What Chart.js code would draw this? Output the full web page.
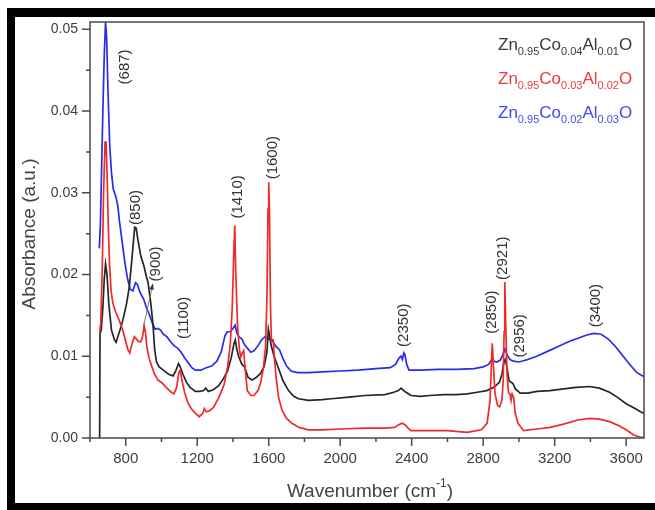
<!DOCTYPE html>
<html>
<head>
<meta charset="utf-8">
<script src="https://cdn.jsdelivr.net/npm/chart.js@4.4.1/dist/chart.umd.min.js"></script>
<style>
  html, body { margin: 0; padding: 0; background: #fff; }
  #wrap { width: 655px; height: 510px; }
</style>
</head>
<body>
<div id="wrap"><canvas id="myChart" width="655" height="510"></canvas></div>
<script>
// FTIR spectra, values
const xTicks = [800, 1200, 1600, 2000, 2400, 2800, 3200, 3600];
const yTicks = [0, 0.01, 0.02, 0.03, 0.04, 0.05];

const blackWavenumber = [
  650, 654, 656, 663, 672, 680, 687, 695, 705, 720,
  737, 746, 760, 774, 790, 805, 820, 835, 850, 858,
  870, 885, 900, 915, 925, 940, 952, 962, 972, 987,
  1010, 1040, 1065, 1080, 1095, 1105, 1120, 1140, 1160, 1190,
  1215, 1235, 1248, 1262, 1290, 1320, 1345, 1370, 1390, 1405,
  1413, 1422, 1433, 1450, 1465, 1485, 1507, 1530, 1554, 1575,
  1590, 1598, 1605, 1615, 1630, 1650, 1680, 1711, 1740, 1767,
  1822, 1900, 1950, 2050, 2137, 2250, 2300, 2325, 2341, 2360,
  2375, 2396, 2450, 2500, 2582, 2650, 2711, 2767, 2820, 2860,
  2890, 2905, 2915, 2923, 2932, 2945, 2958, 2966, 2980, 3007,
  3050, 3100, 3174, 3250, 3320, 3396, 3450, 3507, 3550, 3600,
  3650, 3680, 3700
];
const blackAbsorbance = [
  0, 0, 0.0128, 0.0132, 0.0160, 0.0195, 0.0213, 0.0200, 0.0165, 0.0132,
  0.0120, 0.0117, 0.0127, 0.0136, 0.0150, 0.0165, 0.0185, 0.0220, 0.0258, 0.0257,
  0.0240, 0.0222, 0.0212, 0.0198, 0.0190, 0.0165, 0.0140, 0.0108, 0.0093, 0.0087,
  0.0083, 0.0078, 0.0076, 0.0082, 0.0091, 0.0087, 0.0078, 0.0068, 0.0062, 0.0057,
  0.0057, 0.0058, 0.0061, 0.0057, 0.0059, 0.0064, 0.0072, 0.0082, 0.0098, 0.0115,
  0.0120, 0.0108, 0.0099, 0.0090, 0.0087, 0.0074, 0.0071, 0.0074, 0.0079, 0.0088,
  0.0105, 0.0133, 0.0125, 0.0112, 0.0100, 0.0088, 0.0070, 0.0058, 0.0051, 0.0048,
  0.0046, 0.0047, 0.0048, 0.0050, 0.0052, 0.0053, 0.0056, 0.0058, 0.0061, 0.0057,
  0.0055, 0.0052, 0.0051, 0.0052, 0.0053, 0.0053, 0.0054, 0.0056, 0.0058, 0.0062,
  0.0068, 0.0078, 0.0092, 0.0096, 0.0088, 0.0070, 0.0068, 0.0067, 0.0060, 0.0055,
  0.0055, 0.0057, 0.0058, 0.0060, 0.0062, 0.0063, 0.0061, 0.0056, 0.0050, 0.0042,
  0.0036, 0.0032, 0.0030
];

const redWavenumber = [
  654, 660, 668, 676, 684, 690, 696, 702, 709, 718,
  728, 742, 756, 770, 783, 800, 812, 822, 835, 848,
  860, 872, 885, 895, 903, 910, 918, 930, 945, 959,
  980, 1005, 1030, 1055, 1070, 1085, 1097, 1105, 1115, 1130,
  1150, 1170, 1191, 1211, 1230, 1240, 1250, 1267, 1290, 1322,
  1350, 1370, 1385, 1396, 1405, 1410, 1416, 1425, 1436, 1444,
  1452, 1460, 1468, 1480, 1500, 1517, 1540, 1554, 1570, 1582,
  1590, 1596, 1600, 1604, 1610, 1615, 1625, 1633, 1641, 1655,
  1674, 1700, 1730, 1770, 1822, 1900, 2000, 2137, 2250, 2304,
  2325, 2345, 2365, 2380, 2396, 2500, 2600, 2711, 2790, 2822,
  2838, 2846, 2851, 2857, 2866, 2880, 2892, 2905, 2912, 2917,
  2921, 2926, 2933, 2942, 2950, 2956, 2962, 2970, 2980, 2995,
  3026, 3100, 3174, 3250, 3330, 3396, 3450, 3507, 3560, 3600,
  3640, 3680, 3700
];
const redAbsorbance = [
  0.0130, 0.0140, 0.0200, 0.0300, 0.0362, 0.0362, 0.0320, 0.0262, 0.0214, 0.0180,
  0.0165, 0.0155, 0.0148, 0.0140, 0.0132, 0.0118, 0.0108, 0.0104, 0.0115, 0.0124,
  0.0121, 0.0118, 0.0118, 0.0125, 0.0137, 0.0130, 0.0112, 0.0098, 0.0088, 0.0079,
  0.0071, 0.0067, 0.0061, 0.0056, 0.0054, 0.0062, 0.0080, 0.0083, 0.0070, 0.0055,
  0.0042, 0.0035, 0.0030, 0.0026, 0.0030, 0.0036, 0.0032, 0.0033, 0.0037, 0.0050,
  0.0065, 0.0087, 0.0115, 0.0160, 0.0230, 0.0260, 0.0200, 0.0140, 0.0108, 0.0099,
  0.0104, 0.0107, 0.0085, 0.0058, 0.0052, 0.0052, 0.0058, 0.0067, 0.0085, 0.0111,
  0.0170, 0.0280, 0.0313, 0.0280, 0.0160, 0.0120, 0.0120, 0.0095, 0.0075, 0.0050,
  0.0034, 0.0024, 0.0018, 0.0013, 0.0010, 0.0010, 0.0011, 0.0012, 0.0012, 0.0013,
  0.0016, 0.0018, 0.0016, 0.0012, 0.0009, 0.0009, 0.0009, 0.0007, 0.0010, 0.0018,
  0.0045, 0.0090, 0.0116, 0.0090, 0.0055, 0.0040, 0.0038, 0.0046, 0.0070, 0.0130,
  0.0191, 0.0140, 0.0080, 0.0055, 0.0054, 0.0046, 0.0054, 0.0050, 0.0030, 0.0018,
  0.0009, 0.0011, 0.0013, 0.0017, 0.0022, 0.0024, 0.0023, 0.0020, 0.0015, 0.0010,
  0.0004, 0.0001, 0
];

const blueWavenumber = [
  652, 658, 665, 672, 680, 687, 693, 700, 710, 720,
  730, 745, 755, 765, 780, 795, 810, 825, 840, 855,
  865, 880, 900, 915, 930, 950, 965, 980, 995, 1010,
  1030, 1050, 1070, 1090, 1110, 1130, 1150, 1170, 1190, 1220,
  1250, 1280, 1310, 1335, 1355, 1368, 1385, 1400, 1412, 1422,
  1433, 1450, 1465, 1480, 1500, 1520, 1540, 1560, 1580, 1600,
  1620, 1640, 1660, 1680, 1700, 1725, 1760, 1822, 1900, 2000,
  2100, 2200, 2280, 2310, 2330, 2340, 2348, 2356, 2362, 2372,
  2385, 2450, 2550, 2650, 2750, 2800, 2830, 2850, 2860, 2875,
  2895, 2910, 2921, 2935, 2950, 2970, 3000, 3050, 3100, 3160,
  3220, 3280, 3330, 3380, 3420, 3460, 3500, 3540, 3580, 3620,
  3660, 3700
];
const blueAbsorbance = [
  0.0232, 0.0260, 0.0330, 0.0400, 0.0470, 0.0509, 0.0490, 0.0430, 0.0360, 0.0325,
  0.0305, 0.0295, 0.0285, 0.0265, 0.0240, 0.0215, 0.0195, 0.0182, 0.0180, 0.0190,
  0.0188, 0.0178, 0.0170, 0.0160, 0.0152, 0.0140, 0.0133, 0.0134, 0.0132, 0.0127,
  0.0124, 0.0118, 0.0113, 0.0110, 0.0105, 0.0098, 0.0092, 0.0086, 0.0083, 0.0083,
  0.0086, 0.0088, 0.0094, 0.0106, 0.0125, 0.0130, 0.0130, 0.0134, 0.0138, 0.0128,
  0.0124, 0.0121, 0.0114, 0.0110, 0.0105, 0.0107, 0.0113, 0.0120, 0.0124, 0.0121,
  0.0119, 0.0112, 0.0108, 0.0097, 0.0088, 0.0082, 0.0080, 0.0080, 0.0081, 0.0082,
  0.0083, 0.0085, 0.0086, 0.0090, 0.0098, 0.0100, 0.0096, 0.0104, 0.0102, 0.0090,
  0.0083, 0.0083, 0.0084, 0.0084, 0.0085, 0.0087, 0.0090, 0.0097, 0.0094, 0.0093,
  0.0095, 0.0102, 0.0109, 0.0101, 0.0096, 0.0094, 0.0093, 0.0096, 0.0100, 0.0106,
  0.0112, 0.0118, 0.0122, 0.0126, 0.0128, 0.0127, 0.0121, 0.0112, 0.0101, 0.0090,
  0.0080, 0.0075
];

// legend formulas: [element, subscript]
const blackFormula = [["Zn", "0.95"], ["Co", "0.04"], ["Al", "0.01"], ["O", ""]];
const redFormula = [["Zn", "0.95"], ["Co", "0.03"], ["Al", "0.02"], ["O", ""]];
const blueFormula = [["Zn", "0.95"], ["Co", "0.02"], ["Al", "0.03"], ["O", ""]];

const peakLabels = ["(687)", "(850)", "(900)", "(1100)", "(1410)", "(1600)",
  "(2350)", "(2850)", "(2921)", "(2956)", "(3400)"];

const colBlack = "#262626";
const colRed = "#ee2a2a";
const colBlue = "#2b2bea";
const frameColor = "#4a4a4a";
const textColor = "#3c3c3c";
const fontFamily = "'Liberation Sans', Arial, sans-serif";

// label anchors in data units (wavenumber, absorbance)
const labelAnchors = [
  [796, 0.0454], [857, 0.0282], [971, 0.0213], [1123, 0.0147], [1428, 0.0295],
  [1621, 0.0343], [2358, 0.0138], [2851, 0.0154], [2912, 0.0220], [3006, 0.0125],
  [3433, 0.0162]
];

function toPoints(xs, ys) {
  return xs.map((x, i) => ({ x: x, y: ys[i] }));
}

const outerFrame = {
  id: "outerFrame",
  beforeDraw(chart) {
    const ctx = chart.ctx;
    ctx.save();
    ctx.fillStyle = "#fff";
    ctx.fillRect(0, 0, chart.width, chart.height);
    ctx.fillStyle = "#000";
    ctx.fillRect(7, 8, 648, 9);
    ctx.fillRect(7, 8, 8, 502);
    ctx.fillRect(7, 503, 648, 7);
    ctx.restore();
  },
};

const axesBox = {
  id: "axesBox",
  afterDatasetsDraw(chart) {
    const ctx = chart.ctx;
    const a = chart.chartArea;
    const x = chart.scales.x;
    const y = chart.scales.y;
    ctx.save();
    ctx.strokeStyle = frameColor;
    ctx.lineWidth = 1.5;
    ctx.strokeRect(a.left, a.top, a.right - a.left, a.bottom - a.top);

    // major + minor ticks, pointing out
    ctx.beginPath();
    xTicks.forEach((v) => {
      const px = x.getPixelForValue(v);
      ctx.moveTo(px, a.bottom);
      ctx.lineTo(px, a.bottom + 8);
      const pm = x.getPixelForValue(v - 200);
      ctx.moveTo(pm, a.bottom);
      ctx.lineTo(pm, a.bottom + 4);
    });
    yTicks.forEach((v, i) => {
      const py = y.getPixelForValue(v);
      ctx.moveTo(a.left, py);
      ctx.lineTo(a.left - 8, py);
      if (i < yTicks.length - 1) {
        const pm = y.getPixelForValue(v + 0.005);
        ctx.moveTo(a.left, pm);
        ctx.lineTo(a.left - 4, pm);
      }
    });
    ctx.stroke();

    // axis titles
    ctx.fillStyle = "#444";
    ctx.font = "19px " + fontFamily;
    ctx.textBaseline = "middle";
    ctx.textAlign = "center";
    ctx.save();
    ctx.translate(30, 234);
    ctx.rotate(-Math.PI / 2);
    ctx.fillText("Absorbance (a.u.)", 0, 0);
    ctx.restore();

    ctx.textBaseline = "alphabetic";
    ctx.textAlign = "left";
    const mainA = "Wavenumber (cm";
    const sup = "-1";
    const mainB = ")";
    ctx.font = "19px " + fontFamily;
    const wA = ctx.measureText(mainA).width;
    const wB = ctx.measureText(mainB).width;
    ctx.font = "12px " + fontFamily;
    const wS = ctx.measureText(sup).width;
    let sx = 370 - (wA + wS + wB) / 2;
    ctx.font = "19px " + fontFamily;
    ctx.fillText(mainA, sx, 497);
    ctx.font = "12px " + fontFamily;
    ctx.fillText(sup, sx + wA, 487);
    ctx.font = "19px " + fontFamily;
    ctx.fillText(mainB, sx + wA + wS, 497);

    ctx.restore();
  },
};

const peakText = {
  id: "peakText",
  afterDatasetsDraw(chart) {
    const ctx = chart.ctx;
    const x = chart.scales.x;
    const y = chart.scales.y;
    ctx.save();
    ctx.fillStyle = "#333";
    ctx.font = "15px " + fontFamily;
    ctx.textAlign = "center";
    ctx.textBaseline = "middle";
    peakLabels.forEach((t, i) => {
      const px = x.getPixelForValue(labelAnchors[i][0]);
      const py = y.getPixelForValue(labelAnchors[i][1]);
      ctx.save();
      ctx.translate(px, py);
      ctx.rotate(-Math.PI / 2);
      ctx.fillText(t, 0, 0);
      ctx.restore();
    });

    // arrow from the 900 shoulder to its label
    const x0 = x.getPixelForValue(900), y0 = y.getPixelForValue(0.0137);
    const x1 = x.getPixelForValue(950), y1 = y.getPixelForValue(0.0187);
    ctx.strokeStyle = "#777";
    ctx.lineWidth = 1;
    ctx.beginPath();
    ctx.moveTo(x0, y0);
    ctx.lineTo(x1, y1);
    ctx.stroke();
    const ang = Math.atan2(y1 - y0, x1 - x0);
    ctx.fillStyle = "#333";
    ctx.beginPath();
    ctx.moveTo(x1 + 2 * Math.cos(ang), y1 + 2 * Math.sin(ang));
    ctx.lineTo(x1 - 5 * Math.cos(ang - 0.45), y1 - 5 * Math.sin(ang - 0.45));
    ctx.lineTo(x1 - 5 * Math.cos(ang + 0.45), y1 - 5 * Math.sin(ang + 0.45));
    ctx.closePath();
    ctx.fill();
    ctx.restore();
  },
};

const formulaLegend = {
  id: "formulaLegend",
  afterDraw(chart) {
    const ctx = chart.ctx;
    ctx.save();
    ctx.textBaseline = "alphabetic";
    ctx.textAlign = "left";
    const rows = [
      [blackFormula, "#3a3a3a", 50],
      [redFormula, "#ee3b3b", 84],
      [blueFormula, "#4848ee", 118],
    ];
    rows.forEach(([parts, color, base]) => {
      let cx = 498;
      ctx.fillStyle = color;
      parts.forEach(([el, sub]) => {
        ctx.font = "17px " + fontFamily;
        ctx.fillText(el, cx, base);
        cx += ctx.measureText(el).width;
        if (sub) {
          ctx.font = "11px " + fontFamily;
          ctx.fillText(sub, cx, base + 5);
          cx += ctx.measureText(sub).width;
        }
      });
    });
    ctx.restore();
  },
};

const config = {
  type: "line",
  data: {
    datasets: [
      {
        label: "Zn0.95Co0.03Al0.02O",
        data: toPoints(redWavenumber, redAbsorbance),
        borderColor: colRed,
        borderWidth: 1.7,
        pointRadius: 0,
        order: 0,
      },
      {
        label: "Zn0.95Co0.04Al0.01O",
        data: toPoints(blackWavenumber, blackAbsorbance),
        borderColor: colBlack,
        borderWidth: 1.7,
        pointRadius: 0,
        order: 1,
      },
      {
        label: "Zn0.95Co0.02Al0.03O",
        data: toPoints(blueWavenumber, blueAbsorbance),
        borderColor: colBlue,
        borderWidth: 1.7,
        pointRadius: 0,
        order: 2,
      },
    ],
  },
  options: {
    responsive: false,
    animation: false,
    devicePixelRatio: 1,
    layout: { padding: { left: 0, top: 22, right: 5, bottom: 0 } },
    plugins: {
      legend: { display: false },
      tooltip: { enabled: false },
    },
    scales: {
      x: {
        type: "linear",
        min: 600,
        max: 3700,
        grid: { display: false, drawTicks: false },
        border: { display: false },
        afterBuildTicks: (scale) => {
          scale.ticks = xTicks.map((v) => ({ value: v }));
        },
        afterFit: (scale) => {
          scale.height = 72;
        },
        ticks: {
          padding: 12,
          color: textColor,
          font: { size: 15, family: fontFamily },
          maxRotation: 0,
          callback: (v) => String(v),
        },
      },
      y: {
        min: 0,
        max: 0.0509,
        grid: { display: false, drawTicks: false },
        border: { display: false },
        afterBuildTicks: (scale) => {
          scale.ticks = yTicks.map((v) => ({ value: v }));
        },
        afterFit: (scale) => {
          scale.width = 90;
        },
        ticks: {
          padding: 12,
          color: textColor,
          font: { size: 14, family: fontFamily },
          callback: (v) => v.toFixed(2),
        },
      },
    },
  },
  plugins: [outerFrame, axesBox, peakText, formulaLegend],
};

const myChart = new Chart(document.getElementById("myChart").getContext("2d"), config);
</script>
</body>
</html>
